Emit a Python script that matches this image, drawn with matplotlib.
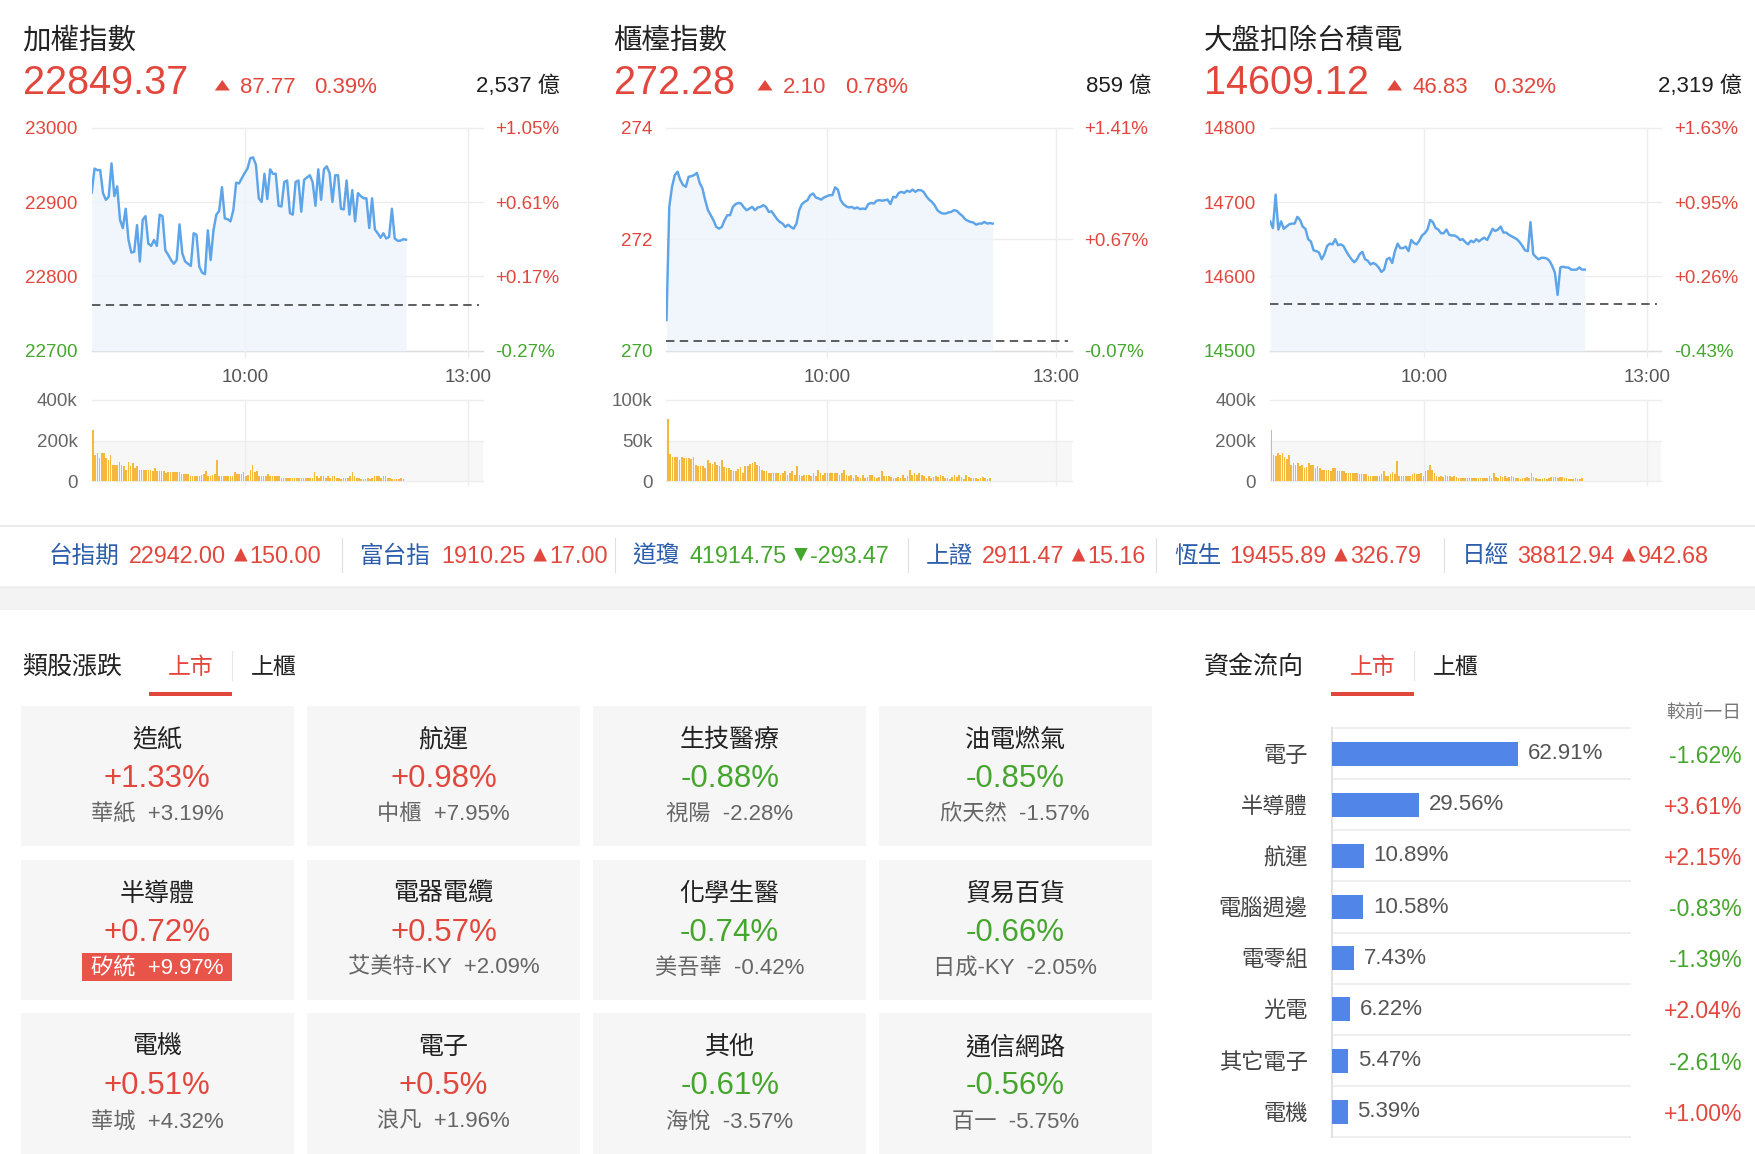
import numpy as np
import matplotlib
matplotlib.use('Agg')
import matplotlib.pyplot as plt
from matplotlib.patches import Rectangle, Polygon
from matplotlib.lines import Line2D
from matplotlib.transforms import blended_transform_factory

plt.rcParams['font.family'] = ['Liberation Sans', 'Noto Sans CJK TC']

W, H = 1756, 1154
RED = '#e2473d'
GREEN = '#45a62e'
LINE_C = '#5ea4e8'
FILL_C = '#eef5fc'
VOL_C = '#f5b83f'
GRID = '#ededed'
DARK = '#2b2b2b'
GRAY = '#666666'
BLUE_TXT = '#2c5eac'

# ---------------- data ----------------
idx_names = ['加權指數', '櫃檯指數', '大盤扣除台積電']
idx_price = ['22849.37', '272.28', '14609.12']
idx_change = ['87.77', '2.10', '46.83']
idx_pct = ['0.39%', '0.78%', '0.32%']
idx_amount = ['2,537 億', '859 億', '2,319 億']
prev_close = [22761.60, 270.18, 14562.29]
y_ticks = [[22700, 22800, 22900, 23000], [270, 272, 274], [14500, 14600, 14700, 14800]]
y_tick_pct = [['-0.27%', '+0.17%', '+0.61%', '+1.05%'],
              ['-0.07%', '+0.67%', '+1.41%'],
              ['-0.43%', '+0.26%', '+0.95%', '+1.63%']]
vol_ticks = [[0, 200, 400], [0, 50, 100], [0, 200, 400]]
vol_tick_labels = [['0', '200k', '400k'], ['0', '50k', '100k'], ['0', '200k', '400k']]
time_labels = ['10:00', '13:00']

taiex = [22912.6, 22945, 22943, 22943, 22912, 22903, 22907, 22952, 22908, 22921, 22876, 22865,
         22891, 22849, 22832, 22833, 22869, 22820, 22876, 22881, 22844, 22841, 22849, 22841,
         22883, 22881, 22835, 22829, 22822, 22817, 22822, 22870, 22831, 22820, 22817, 22814,
         22858, 22856, 22813, 22805, 22803, 22862, 22822, 22862, 22883, 22888, 22920, 22878,
         22877, 22874, 22889, 22926, 22925, 22932, 22939, 22945, 22959, 22960, 22950, 22905,
         22900, 22938, 22904, 22944, 22938, 22938, 22895, 22894, 22927, 22929, 22885, 22883,
         22927, 22929, 22887, 22930, 22933, 22936, 22927, 22895, 22944, 22903, 22944, 22948,
         22939, 22900, 22936, 22936, 22891, 22890, 22929, 22883, 22916, 22874, 22912, 22908,
         22905, 22905, 22865, 22905, 22863, 22858, 22852, 22858, 22851, 22853, 22891, 22851,
         22848, 22848, 22850, 22849.37]

otc = [270.55, 272.58, 272.94, 273.15, 273.21, 273.06, 272.97, 272.94, 273.12, 273.13, 273.15,
       273.19, 273.01, 272.91, 272.70, 272.52, 272.43, 272.34, 272.22, 272.19, 272.22, 272.34,
       272.43, 272.43, 272.58, 272.63, 272.65, 272.64, 272.57, 272.52, 272.55, 272.58, 272.52,
       272.57, 272.58, 272.61, 272.58, 272.49, 272.50, 272.43, 272.36, 272.31, 272.28, 272.22,
       272.26, 272.22, 272.19, 272.28, 272.52, 272.63, 272.67, 272.70, 272.79, 272.82, 272.75,
       272.73, 272.71, 272.75, 272.77, 272.79, 272.79, 272.93, 272.89, 272.70, 272.63, 272.59,
       272.57, 272.58, 272.55, 272.57, 272.54, 272.55, 272.54, 272.63, 272.65, 272.64, 272.69,
       272.70, 272.69, 272.70, 272.71, 272.63, 272.76, 272.75, 272.83, 272.85, 272.83, 272.87,
       272.85, 272.89, 272.85, 272.88, 272.88, 272.85, 272.77, 272.71, 272.67, 272.61, 272.52,
       272.48, 272.46, 272.46, 272.48, 272.49, 272.52, 272.51, 272.46, 272.42, 272.36, 272.33,
       272.31, 272.30, 272.26, 272.28, 272.28, 272.31, 272.28, 272.29, 272.28]

ex_tsmc = [14674, 14665, 14710, 14663, 14674, 14664, 14667, 14670, 14671, 14671, 14680, 14676,
           14667, 14664, 14650, 14647, 14635, 14634, 14632, 14623, 14630, 14641, 14644, 14643,
           14650, 14642, 14643, 14641, 14634, 14628, 14623, 14619, 14623, 14630, 14633, 14623,
           14621, 14616, 14618, 14616, 14612, 14606, 14609, 14623, 14625, 14618, 14634, 14644,
           14638, 14638, 14640, 14634, 14649, 14645, 14643, 14648, 14655, 14658, 14663, 14676,
           14673, 14665, 14663, 14658, 14658, 14663, 14656, 14655, 14655, 14653, 14649, 14650,
           14646, 14643, 14648, 14646, 14650, 14647, 14650, 14652, 14649, 14656, 14664, 14661,
           14663, 14667, 14659, 14659, 14656, 14654, 14652, 14650, 14646, 14641, 14635, 14634,
           14673, 14630, 14626, 14623, 14625, 14625, 14624, 14621, 14614, 14605, 14575, 14612,
           14613, 14612, 14612, 14609, 14609, 14609, 14612, 14609, 14609.12]

# volume, thousands
taiex_vol = [250, 130, 138, 113, 138, 138, 113, 105, 130, 80, 80, 80, 92, 80, 72, 55, 92, 72, 88,
             63, 72, 55, 55, 55, 55, 55, 55, 47, 63, 47, 47, 47, 47, 38, 42, 42, 42, 42, 42, 42,
             33, 33, 33, 33, 25, 25, 25, 25, 25, 30, 35, 50, 25, 25, 30, 35, 105, 25, 25, 25, 25,
             25, 25, 25, 42, 35, 33, 35, 42, 25, 30, 52, 80, 42, 50, 25, 25, 25, 25, 35, 25, 25,
             25, 25, 25, 17, 17, 17, 17, 17, 17, 17, 17, 17, 17, 17, 17, 17, 17, 17, 42, 25, 17,
             25, 25, 17, 25, 17, 25, 25, 17, 17, 8, 17, 17, 17, 25, 42, 25, 17, 17, 8, 8, 8, 17,
             8, 17, 25, 25, 25, 17, 25, 25, 17, 17, 8, 8, 8, 8, 17, 8]

otc_vol = [76, 33, 30, 30, 30, 26, 30, 29, 29, 29, 27, 30, 20, 18, 18, 19, 16, 26, 22, 21, 24, 20,
           18, 26, 17, 16, 16, 14, 12, 12.5, 15, 17, 10, 18, 19, 21, 22, 23, 20, 18, 14, 12, 12,
           10, 10, 10, 10, 10, 8, 10, 12, 8, 10, 12.5, 7.5, 18, 8, 6.5, 7.5, 7.5, 8, 6.5, 10,
           6.5, 14, 10, 8, 10, 10, 10, 10, 10, 10, 8, 10, 14, 7.5, 6.5, 7.5, 4, 8, 5.5, 4, 7.5,
           4, 5.5, 8, 7.5, 5.5, 4, 5.5, 12, 6.5, 6.5, 6.5, 5.5, 4, 4, 5.5, 4, 7.5, 4, 6.5, 14,
           8, 10, 8, 10, 7.5, 6.5, 4, 6.5, 4, 5.5, 6.5, 5.5, 8, 6.5, 4, 4, 3, 5.5, 7.5, 5.5,
           7.5, 5.5, 3, 7.5, 5.5, 4, 4, 4, 3, 4, 5.5, 4, 3, 4]

ex_tsmc_vol = [250, 130, 122, 138, 130, 138, 117, 110, 130, 80, 88, 80, 88, 72, 77, 63, 67, 88,
               77, 80, 63, 72, 63, 55, 55, 55, 55, 47, 63, 63, 50, 47, 47, 47, 38, 38, 38, 38, 38,
               38, 33, 33, 33, 33, 27, 27, 27, 27, 27, 27, 33, 47, 27, 27, 33, 43, 33, 97, 27,
               27, 27, 27, 27, 27, 33, 38, 33, 33, 38, 27, 47, 55, 80, 55, 38, 27, 22, 27, 22, 30,
               27, 27, 22, 27, 22, 17, 17, 17, 17, 17, 17, 17, 17, 17, 17, 17, 17, 17, 17, 27, 17,
               38, 22, 17, 27, 22, 27, 17, 22, 27, 22, 17, 17, 10, 17, 17, 22, 17, 38, 22, 17, 10,
               10, 10, 17, 10, 17, 22, 22, 22, 17, 22, 22, 17, 17, 10, 10, 10, 17, 10, 10, 17]

lines = [taiex, otc, ex_tsmc]
volumes = [taiex_vol, otc_vol, ex_tsmc_vol]

ticker_names = ['台指期', '富台指', '道瓊', '上證', '恆生', '日經']
ticker_values = ['22942.00', '1910.25', '41914.75', '2911.47', '19455.89', '38812.94']
ticker_changes = ['150.00', '17.00', '-293.47', '15.16', '326.79', '942.68']

sector_names = ['造紙', '航運', '生技醫療', '油電燃氣', '半導體', '電器電纜',
                '化學生醫', '貿易百貨', '電機', '電子', '其他', '通信網路']
sector_pct = ['+1.33%', '+0.98%', '-0.88%', '-0.85%', '+0.72%', '+0.57%',
              '-0.74%', '-0.66%', '+0.51%', '+0.5%', '-0.61%', '-0.56%']
leader_names = ['華紙', '中櫃', '視陽', '欣天然', '矽統', '艾美特-KY',
                '美吾華', '日成-KY', '華城', '浪凡', '海悅', '百一']
leader_pct = ['+3.19%', '+7.95%', '-2.28%', '-1.57%', '+9.97%', '+2.09%',
              '-0.42%', '-2.05%', '+4.32%', '+1.96%', '-3.57%', '-5.75%']

flow_names = ['電子', '半導體', '航運', '電腦週邊', '電零組', '光電', '其它電子', '電機']
flow_share = [62.91, 29.56, 10.89, 10.58, 7.43, 6.22, 5.47, 5.39]
flow_change = ['-1.62%', '+3.61%', '+2.15%', '-0.83%', '-1.39%', '+2.04%', '-2.61%', '+1.00%']

# ---------------- helpers (pixel coords, origin top-left) ----------------
fig = plt.figure(figsize=(W / 100, H / 100), dpi=100)
fig.patch.set_facecolor('white')
renderer = fig.canvas.get_renderer()


def txt(x, y, s, size, color=DARK, ha='left', va='center_baseline', **kw):
    return fig.text(x / W, 1 - y / H, s, fontsize=size, color=color, ha=ha, va=va, **kw)


def box(x0, y0, x1, y1, color, z=0):
    fig.add_artist(Rectangle((x0 / W, 1 - y1 / H), (x1 - x0) / W, (y1 - y0) / H,
                             transform=fig.transFigure, facecolor=color, edgecolor='none', zorder=z))


def seg(xs, ys, color, lw=0.8):
    fig.add_artist(Line2D([x / W for x in xs], [1 - y / H for y in ys],
                          transform=fig.transFigure, color=color, lw=lw))


def triangle(x0, x1, y_top, y_bot, color, up=True):
    cx = (x0 + x1) / 2
    if up:
        pts = [(x0, y_bot), (x1, y_bot), (cx, y_top)]
    else:
        pts = [(x0, y_top), (x1, y_top), (cx, y_bot)]
    fig.add_artist(Polygon([(px / W, 1 - py / H) for px, py in pts], closed=True,
                           transform=fig.transFigure, facecolor=color, edgecolor='none'))


def new_ax(x0, y0, x1, y1):
    ax = fig.add_axes([x0 / W, 1 - y1 / H, (x1 - x0) / W, (y1 - y0) / H])
    ax.set_facecolor('none')
    ax.axis('off')
    return ax


def sign_color(s):
    return GREEN if s.strip().startswith('-') else RED


# ---------------- index panels ----------------
LINE_END = 0.804
VOL_END = 0.797
time_pos = [[0.393, 0.962], [0.396, 0.960], [0.394, 0.964]]
panel_x = [(91.7, 482.7), (666.5, 1072.2), (1270.2, 1661.4)]
title_x = [22.2, 613.1, 1203.6]
tri_x = [222.3, 765, 1394.7]
chg_x = [240.4, 783.2, 1412.9]
pct_x = [314.4, 845.3, 1493.3]
amt_x = [560.4, 1151.2, 1741.8]
lab_l = [77.7, 652.6, 1256]
lab_r = [495.5, 1084.5, 1674.5]
CH_TOP, CH_BOT = 127.7, 350.7
VOL_TOP, VOL_BOT = 400, 481

for i in range(3):
    x0, x1 = panel_x[i]
    # header
    txt(title_x[i], 38.5, idx_names[i], 20.5, color='#222222')
    txt(title_x[i] + 0.5, 79, idx_price[i], 28.5, color=RED)
    triangle(tri_x[i] - 7.5, tri_x[i] + 7.5, 80, 90.5, RED)
    txt(chg_x[i], 85, idx_change[i], 16, color=RED)
    txt(pct_x[i], 85, idx_pct[i], 16, color=RED)
    txt(amt_x[i], 84, idx_amount[i], 16, color='#1f1f1f', ha='right')

    # price chart
    ax = new_ax(x0, CH_TOP, x1, CH_BOT)
    vals = np.array(lines[i])
    t = np.linspace(0, LINE_END, len(vals))
    lo, hi = y_ticks[i][0], y_ticks[i][-1]
    ax.set_xlim(0, 1)
    ax.set_ylim(lo, hi)
    for yv in y_ticks[i]:
        ax.axhline(yv, color=GRID, lw=1, clip_on=False, zorder=0)
    ax.axhline(lo, color='#dddddd', lw=1, clip_on=False, zorder=0)
    for p in time_pos[i]:
        ax.plot([p, p], [-0.03, 1], transform=ax.transAxes, color=GRID, lw=1, clip_on=False, zorder=0)
    ax.fill_between(t, vals, lo, color=FILL_C, alpha=0.85, lw=0, zorder=1)
    ax.plot(t, vals, color=LINE_C, lw=1.75, zorder=3)
    ax.axhline(prev_close[i], xmax=0.99, color='#333333', lw=1.1, dashes=(5.5, 3.5), zorder=4)

    span = CH_BOT - CH_TOP
    for yv, pl in zip(y_ticks[i], y_tick_pct[i]):
        ypx = CH_TOP + (hi - yv) / (hi - lo) * span
        c = RED if yv > prev_close[i] else GREEN
        txt(lab_l[i], ypx, f'{yv}', 13.5, color=c, ha='right')
        txt(lab_r[i], ypx, pl, 13.5, color=c)
    for p, lab in zip(time_pos[i], time_labels):
        txt(x0 + p * (x1 - x0), 376, lab, 13.5, color='#555555', ha='center')

    # volume chart
    axv = new_ax(x0, VOL_TOP, x1, VOL_BOT)
    vv = np.array(volumes[i])
    tv = np.linspace(0.003, VOL_END, len(vv))
    vmax = vol_ticks[i][-1]
    axv.set_xlim(0, 1)
    axv.set_ylim(0, vmax)
    axv.axhspan(0, vol_ticks[i][1], color='#f7f7f7', lw=0, zorder=0)
    for yv in vol_ticks[i]:
        axv.axhline(yv, color=GRID, lw=1, clip_on=False, zorder=0)
    for p in time_pos[i]:
        axv.plot([p, p], [-0.05, 1], transform=axv.transAxes, color=GRID, lw=1, clip_on=False, zorder=0)
    axv.bar(tv, vv, width=(tv[1] - tv[0]) * 0.72, color=VOL_C, lw=0, zorder=2)
    vspan = VOL_BOT - VOL_TOP
    for yv, lab in zip(vol_ticks[i], vol_tick_labels[i]):
        txt(lab_l[i], VOL_TOP + (vmax - yv) / vmax * vspan, lab, 13.5, color=GRAY, ha='right')

# ---------------- ticker strip ----------------
seg([0, W], [525.5, 525.5], '#e6e6e6', lw=1.2)
box(0, 586, W, 610, '#f3f3f3')
seg([0, W], [586.5, 586.5], '#ececec', lw=1.0)
ticker_name_x = [48.5, 359.5, 632, 925.5, 1174, 1462]
ticker_val_x = [129, 441, 689, 981.5, 1229, 1517]
ticker_sep_x = [342, 615.5, 908, 1156.5, 1444]
TICK_Y = 554
for k in range(len(ticker_names)):
    up = not ticker_changes[k].startswith('-')
    col = RED if up else GREEN
    txt(ticker_name_x[k], TICK_Y, ticker_names[k], 17, color=BLUE_TXT)
    tv_text = txt(ticker_val_x[k], TICK_Y, ticker_values[k], 16.8, color=col)
    end = tv_text.get_window_extent(renderer).x1
    triangle(end + 8, end + 21.5, 548, 561.5, col, up=up)
    txt(end + 23.5, TICK_Y, ticker_changes[k], 16.8, color=col)
for sx in ticker_sep_x:
    seg([sx, sx], [538, 572], '#e0e0e0', lw=0.8)

# ---------------- sector tiles ----------------
txt(22.2, 664.5, '類股漲跌', 18, color='#222222')
txt(190.8, 664.5, '上市', 16.5, color=RED, ha='center')
txt(273.7, 664.5, '上櫃', 16.5, color='#222222', ha='center')
box(148.7, 691.5, 232.2, 695.5, RED)
seg([232.2, 232.2], [651, 680], '#e6e6e6', lw=0.8)

tile_cols = [20.7, 307, 593.2, 878.7]
tile_rows = [705.7, 859.7, 1013]
TILE_W, TILE_H = 272.9, 140.5
for k in range(len(sector_names)):
    r, c = divmod(k, 4)
    x0, y0 = tile_cols[c], tile_rows[r]
    box(x0, y0, x0 + TILE_W, y0 + TILE_H, '#f6f6f6')
    cx = x0 + TILE_W / 2
    txt(cx, y0 + 31.5, sector_names[k], 18, color='#222222', ha='center')
    txt(cx, y0 + 70, sector_pct[k], 22.5, color=sign_color(sector_pct[k]), ha='center')
    sub = f'{leader_names[k]}  {leader_pct[k]}'
    if float(leader_pct[k].rstrip('%')) >= 9.5:
        box(cx - 75.5, y0 + 93, cx + 75, y0 + 121.5, '#e8534a', z=1)
        t = txt(cx, y0 + 107, sub, 16, color='white', ha='center')
        t.set_zorder(2)
    else:
        txt(cx, y0 + 106.5, sub, 16, color=GRAY, ha='center')

# ---------------- fund flow ----------------
txt(1203.9, 664.5, '資金流向', 18, color='#222222')
txt(1372.9, 664.5, '上市', 16.5, color=RED, ha='center')
txt(1455.6, 664.5, '上櫃', 16.5, color='#222222', ha='center')
box(1331, 691.5, 1414, 695.5, RED)
seg([1414, 1414], [651, 680], '#e6e6e6', lw=0.8)
txt(1741, 711.5, '較前一日', 13.5, color='#777777', ha='right')

FX0, FX1, FY0, FY1 = 1331.7, 1630, 728, 1137.3
axf = new_ax(FX0, FY0, FX1, FY1)
n = len(flow_names)
yy = np.arange(n)
axf.set_xlim(0, 100.7)
axf.set_ylim(n - 0.5, -0.5)
for b in np.arange(n + 1) - 0.5:
    axf.axhline(b, color='#efefef', lw=1.5, clip_on=False, zorder=0)
axf.axvline(0, color='#e2e2e2', lw=1.5, clip_on=False, zorder=0)
axf.barh(yy, flow_share, height=0.47, color='#5285e8', lw=0, zorder=2)
tr = blended_transform_factory(axf.transAxes, axf.transData)
fw = FX1 - FX0
for k in range(n):
    axf.annotate(f'{flow_share[k]:.2f}%', (flow_share[k], yy[k]), xytext=(7, 0),
                 textcoords='offset points', fontsize=16, color='#555555', va='center')
    axf.text((1307.8 - FX0) / fw, yy[k], flow_names[k], transform=tr, fontsize=16, color='#444444',
             ha='right', va='center_baseline')
    axf.text((1742 - FX0) / fw, yy[k], flow_change[k], transform=tr, fontsize=16.5,
             color=sign_color(flow_change[k]), ha='right', va='center_baseline')

fig.savefig('out.png', dpi=100, facecolor='white')
